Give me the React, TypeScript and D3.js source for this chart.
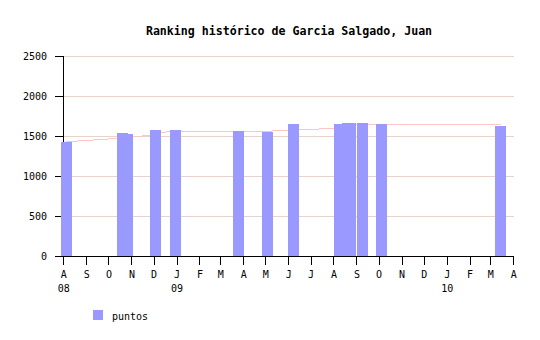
import React from 'react';
import * as d3 from 'd3';

const title = 'Ranking histórico de Garcia Salgado, Juan';
const seriesName = 'puntos';

const barDates = ['2008-08-05', '2008-10-20', '2008-10-27', '2008-12-04', '2008-12-31', '2009-03-26', '2009-05-04', '2009-06-08', '2009-08-09', '2009-08-20', '2009-08-24', '2009-09-09', '2009-10-05', '2010-03-15'];
const barValues = [1430, 1540, 1525, 1575, 1575, 1562, 1550, 1650, 1650, 1662, 1662, 1662, 1650, 1625];

const lineDates = ['2008-08-05', '2008-10-20', '2008-10-27', '2008-12-04', '2008-12-10', '2008-12-31', '2009-03-26', '2009-05-04', '2009-06-08', '2009-08-09', '2009-08-20', '2010-03-15'];
const lineValues = [1427, 1475, 1487, 1512, 1545, 1558, 1557, 1560, 1574, 1598, 1648, 1648];

const yTicks = [0, 500, 1000, 1500, 2000, 2500];
const monthLabels = ['A', 'S', 'O', 'N', 'D', 'J', 'F', 'M', 'A', 'M', 'J', 'J', 'A', 'S', 'O', 'N', 'D', 'J', 'F', 'M', 'A'];
const yearTickDates = ['2008-08-01', '2009-01-01', '2010-01-01'];
const yearLabels = ['08', '09', '10'];

const parse = d3.timeParse('%Y-%m-%d');

export default function App() {
  const W = 540, H = 340;
  const x = d3.scaleTime()
    .domain([parse('2008-08-01') as Date, parse('2010-04-01') as Date])
    .range([63.3, 513.3]);
  const y = d3.scaleLinear().domain([0, 2500]).range([256, 56]);
  const months = d3.timeMonth.range(parse('2008-08-01') as Date, parse('2010-04-02') as Date);
  const barW = 11;
  const font = '"DejaVu Sans Mono", monospace';
  const crisp = (v: number) => Math.round(v) + 0.5;

  const line = d3.line<number>()
    .x((_, i) => x(parse(lineDates[i]) as Date))
    .y((v) => y(v));

  return (
    <svg width={W} height={H} style={{ position: 'absolute', left: 0, top: 0, background: '#fff' }}>
      <rect x={0} y={0} width={W} height={H} fill="#fff" />
      <text x={289} y={35} textAnchor="middle" fontFamily={font} fontWeight="bold" fontSize={11.6} fill="#000">{title}</text>
      {yTicks.filter((t) => t > 0).map((t) => (
        <line key={'g' + t} x1={64} x2={514} y1={crisp(y(t))} y2={crisp(y(t))} stroke="#e6d3cb" strokeWidth={1} shapeRendering="crispEdges" />
      ))}
      <path d={line(lineValues) || ''} fill="none" stroke="#ffc4c4" strokeWidth={1} shapeRendering="crispEdges" />
      <line x1={63.5} x2={63.5} y1={56} y2={257} stroke="#000" shapeRendering="crispEdges" />
      <line x1={63} x2={514} y1={256.5} y2={256.5} stroke="#000" shapeRendering="crispEdges" />
      {yTicks.map((t) => (
        <g key={'y' + t}>
          <line x1={55} x2={63} y1={crisp(y(t))} y2={crisp(y(t))} stroke="#000" shapeRendering="crispEdges" />
          <text x={47} y={y(t) + 4} textAnchor="end" fontFamily={font} fontSize={10} fill="#000">{t}</text>
        </g>
      ))}
      {months.map((m, i) => (
        <g key={'m' + i}>
          <line x1={crisp(x(m))} x2={crisp(x(m))} y1={257} y2={265} stroke="#000" shapeRendering="crispEdges" />
          <text x={x(m) + 0.5} y={278} textAnchor="middle" fontFamily={font} fontSize={10} fill="#000">{monthLabels[i]}</text>
        </g>
      ))}
      {yearTickDates.map((d, i) => (
        <text key={'yr' + i} x={x(parse(d) as Date) + 0.5} y={291.5} textAnchor="middle" fontFamily={font} fontSize={10} fill="#000">{yearLabels[i]}</text>
      ))}
      {barValues.map((v, i) => {
        const cx = x(parse(barDates[i]) as Date);
        const x0 = Math.round(cx - barW / 2);
        const yt = Math.round(y(v));
        return <rect key={'b' + i} x={x0} y={yt} width={barW} height={256 - yt} fill="#9999ff" shapeRendering="crispEdges" />;
      })}
      <rect x={93} y={310} width={10} height={10} fill="#9999ff" shapeRendering="crispEdges" />
      <text x={112} y={320} fontFamily={font} fontSize={10} fill="#000">{seriesName}</text>
    </svg>
  );
}
